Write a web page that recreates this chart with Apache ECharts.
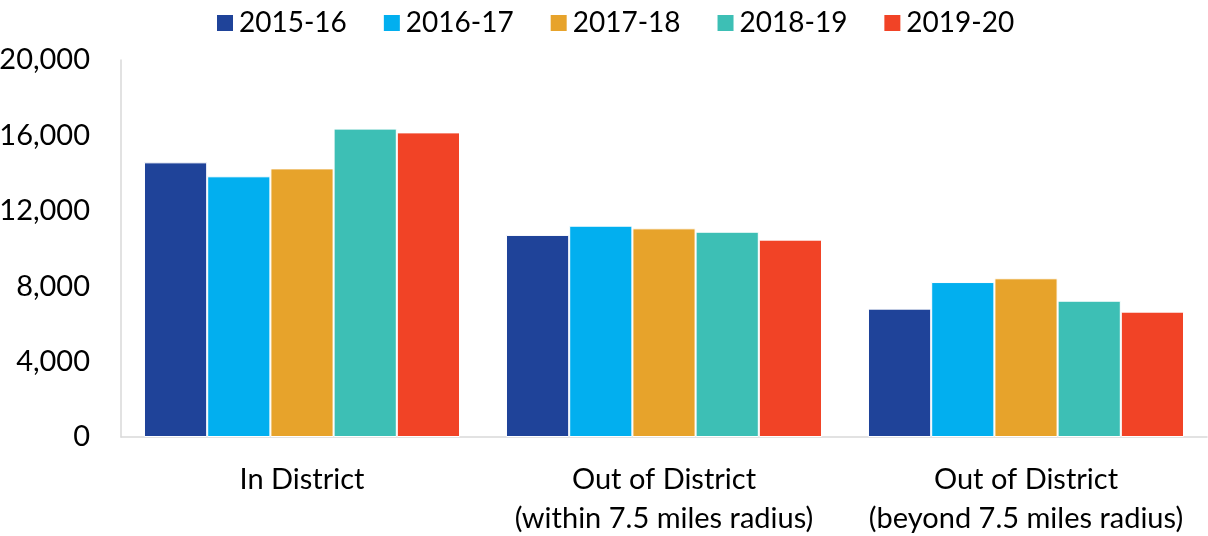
<!DOCTYPE html>
<html>
<head>
<meta charset="utf-8">
<script src="https://cdn.jsdelivr.net/npm/echarts@6/dist/echarts.min.js"></script>
<style>
  html, body { margin: 0; padding: 0; background: #fff; }
  #chart { width: 1208px; height: 536px; }
</style>
</head>
<body>
<div id="chart"></div>
<script>
var categories = ['In District', 'Out of District\n(within 7.5 miles radius)', 'Out of District\n(beyond 7.5 miles radius)'];
var years = ['2015-16', '2016-17', '2017-18', '2018-19', '2019-20'];
var colors = ['#1F4399', '#02AFEF', '#E7A32B', '#3DBFB5', '#F14326'];

// 每个学年的数值（按类别顺序）
var y2015 = [14570, 10720, 6810];
var y2016 = [13830, 11210, 8220];
var y2017 = [14250, 11070, 8420];
var y2018 = [16360, 10890, 7230];
var y2019 = [16160, 10470, 6650];
var values = [y2015, y2016, y2017, y2018, y2019];

var yTicks = [0, 4000, 8000, 12000, 16000, 20000];

var chart = echarts.init(document.getElementById('chart'));

var series = [];
for (var i = 0; i < years.length; i++) {
    series.push({
        name: years[i],
        type: 'bar',
        data: values[i],
        barGap: '0%',
        barCategoryGap: '12.7%',
        itemStyle: {
            color: colors[i],
            borderColor: '#fff',
            borderWidth: 1
        }
    });
}

chart.setOption({
    animation: false,
    textStyle: { fontFamily: 'Lato' },
    legend: {
        top: 4,
        left: 210,
        itemWidth: 18,
        itemHeight: 18,
        itemGap: 35,
        icon: 'rect',
        textStyle: { fontSize: 28, color: '#000', fontFamily: 'Lato' },
        data: years
    },
    grid: {
        left: 121,
        right: 1,
        top: 60,
        bottom: 99,
        containLabel: false,
        outerBoundsMode: 'none'
    },
    xAxis: {
        type: 'category',
        data: categories,
        axisLine: { lineStyle: { color: '#D9D9D9', width: 1.5 } },
        axisTick: { show: false },
        axisLabel: {
            interval: 0,
            fontSize: 29,
            color: '#000',
            margin: 23,
            lineHeight: 39,
            fontFamily: 'Lato'
        }
    },
    yAxis: {
        type: 'value',
        min: yTicks[0],
        max: yTicks[yTicks.length - 1],
        interval: 4000,
        axisLine: { show: true, lineStyle: { color: '#D9D9D9', width: 1.5 } },
        axisTick: { show: false },
        splitLine: { show: false },
        axisLabel: {
            fontSize: 29,
            color: '#000',
            margin: 31,
            fontFamily: 'Lato',
            formatter: function (v) { return v.toLocaleString('en-US'); }
        }
    },
    series: series
});
</script>
</body>
</html>
